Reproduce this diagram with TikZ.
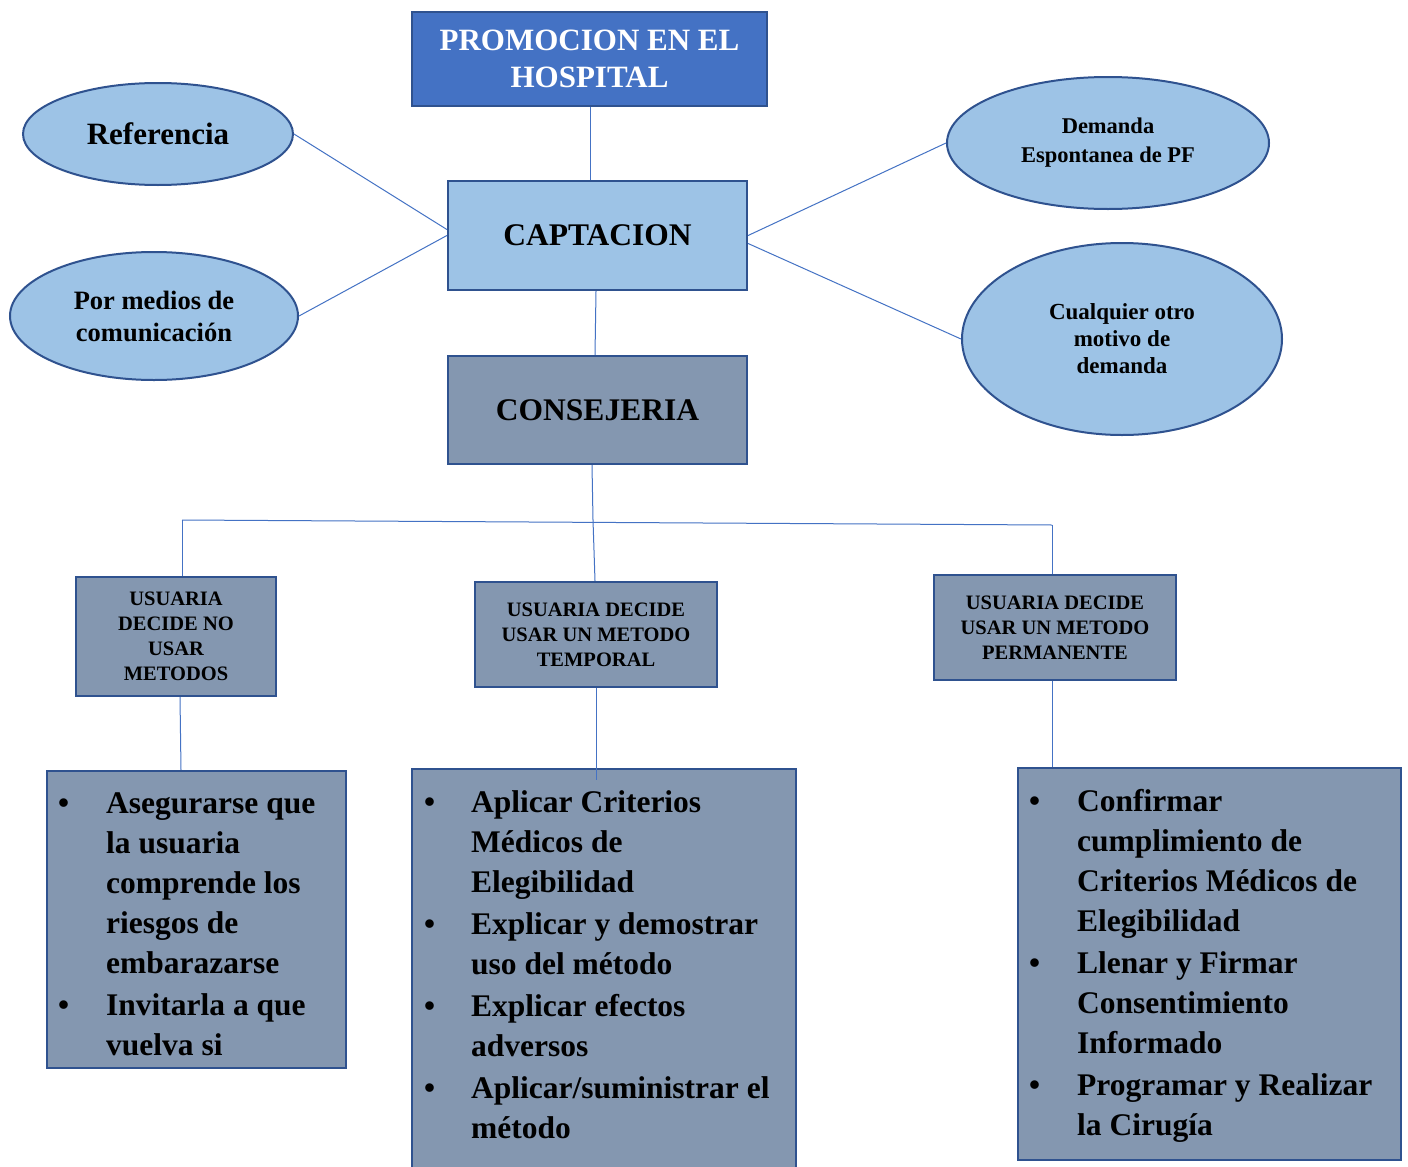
\documentclass[tikz,border=0pt]{standalone}
\usepackage{fontspec}
\setmainfont{Liberation Serif}
\usetikzlibrary{shapes.geometric}
\definecolor{dblue}{HTML}{4472C4}
\definecolor{lblue}{HTML}{9DC3E6}
\definecolor{gblue}{HTML}{8497B0}
\definecolor{bord}{HTML}{2F528F}
\definecolor{conn}{HTML}{4472C4}
\begin{document}
\begin{tikzpicture}[x=1pt,y=-1pt,
  box/.style={draw=bord, line width=2.2pt, rectangle, inner sep=0pt, align=center},
  oval/.style={draw=bord, line width=2pt, ellipse, fill=lblue, inner sep=0pt, align=center},
  conline/.style={draw=conn, line width=1pt},
  lst/.style={anchor=north west, inner sep=0pt, font=\bfseries\fontsize{31.5}{40}\selectfont}
]
\useasboundingbox (0,0) rectangle (1408,1167);
\clip (0,0) rectangle (1408,1167);
\fill[white] (0,0) rectangle (1408,1167);

% top boxes
\node[box, fill=dblue, minimum width=355pt, minimum height=94pt, text=white,
  font=\bfseries\fontsize{31}{37}\selectfont] (prom) at (589.5,59) {PROMOCION EN EL\\HOSPITAL};
\node[box, fill=lblue, minimum width=299pt, minimum height=109pt,
  font=\bfseries\fontsize{31.5}{37}\selectfont] (capt) at (597.5,235.5) {CAPTACION};
\node[box, fill=gblue, minimum width=299pt, minimum height=108pt,
  font=\bfseries\fontsize{31.5}{37}\selectfont] (cons) at (597.5,410) {CONSEJERIA};

% ellipses
\node[oval, minimum width=270pt, minimum height=102pt,
  font=\bfseries\fontsize{31}{37}\selectfont] (ref) at (158,134) {Referencia};
\node[oval, minimum width=288pt, minimum height=128pt,
  font=\bfseries\fontsize{26.5}{32}\selectfont] (pm) at (154,316) {Por medios de\\comunicación};
\node[oval, minimum width=322pt, minimum height=132pt,
  font=\bfseries\fontsize{22.5}{29}\selectfont] (dem) at (1108,143) {Demanda\\Espontanea de PF};
\node[oval, minimum width=320pt, minimum height=192pt,
  font=\bfseries\fontsize{23}{27}\selectfont] (cual) at (1122,339) {Cualquier otro\\motivo de\\demanda};

% decision boxes
\node[box, fill=gblue, minimum width=200pt, minimum height=119pt,
  font=\bfseries\fontsize{20.5}{25}\selectfont] (uno) at (176,636.5) {USUARIA\\DECIDE NO\\USAR\\METODOS};
\node[box, fill=gblue, minimum width=242pt, minimum height=105pt,
  font=\bfseries\fontsize{20.5}{25}\selectfont] (utemp) at (596,634.5) {USUARIA DECIDE\\USAR UN METODO\\TEMPORAL};
\node[box, fill=gblue, minimum width=242pt, minimum height=105pt,
  font=\bfseries\fontsize{20.5}{25}\selectfont] (uperm) at (1055,627.5) {USUARIA DECIDE\\USAR UN METODO\\PERMANENTE};

% bottom boxes
\node[box, fill=gblue, minimum width=299pt, minimum height=297pt] (bl) at (196.5,919.5) {};
\node[box, fill=gblue, minimum width=384pt, minimum height=431pt] (bm) at (604,984.5) {};
\node[box, fill=gblue, minimum width=383pt, minimum height=392pt] (br) at (1209.5,964) {};

% bullet lists
\node[lst] (tl) at (58,785) {\begin{tabular}{@{}p{48pt}@{}l@{}}
\textbullet & Asegurarse que\\
 & la usuaria\\
 & comprende los\\
 & riesgos de\\
 & embarazarse\\[2pt]
\textbullet & Invitarla a que\\
 & vuelva si
\end{tabular}};
\node[lst] (tm) at (424,784) {\begin{tabular}{@{}p{47pt}@{}l@{}}
\textbullet & Aplicar Criterios\\
 & Médicos de\\
 & Elegibilidad\\[2pt]
\textbullet & Explicar y demostrar\\
 & uso del método\\[2pt]
\textbullet & Explicar efectos\\
 & adversos\\[2pt]
\textbullet & Aplicar/suministrar el\\
 & método
\end{tabular}};
\node[lst] (tr) at (1029,783) {\begin{tabular}{@{}p{48pt}@{}l@{}}
\textbullet & Confirmar\\
 & cumplimiento de\\
 & Criterios Médicos de\\
 & Elegibilidad\\[2pt]
\textbullet & Llenar y Firmar\\
 & Consentimiento\\
 & Informado\\[2pt]
\textbullet & Programar y Realizar\\
 & la Cirugía
\end{tabular}};

% connectors
\coordinate (j0) at (593,520);
\coordinate (jl) at (182,520);
\coordinate (jr) at (1052,525);
\draw[conline] ([xshift=0.5pt]prom.south) -- ([xshift=0.5pt]prom.south |- capt.north);
\draw[conline] (ref.east) -- ([yshift=6pt]capt.west);
\draw[conline] (pm.east) -- (capt.west);
\draw[conline] (dem.west) -- (capt.east);
\draw[conline] (cual.west) -- ([yshift=-8pt]capt.east);
\draw[conline] ([xshift=-1.5pt]capt.south) -- ([xshift=-2.5pt]cons.north);
\draw[conline] ([xshift=-5.5pt]cons.south) -- (j0);
\draw[conline] (jl) -- (jr);
\draw[conline] (jl) -- (jl |- uno.north);
\draw[conline] (j0) -- ([xshift=-1pt]utemp.north);
\draw[conline] (jr) -- (jr |- uperm.north);
\draw[conline] ([xshift=4pt]uno.south) -- ([xshift=5pt]uno.south |- bl.north);
\draw[conline] (utemp.south) -- ([yshift=-12pt]utemp.south |- bm.north);
\draw[conline] (jr |- uperm.south) -- (jr |- br.north);
\end{tikzpicture}
\end{document}
